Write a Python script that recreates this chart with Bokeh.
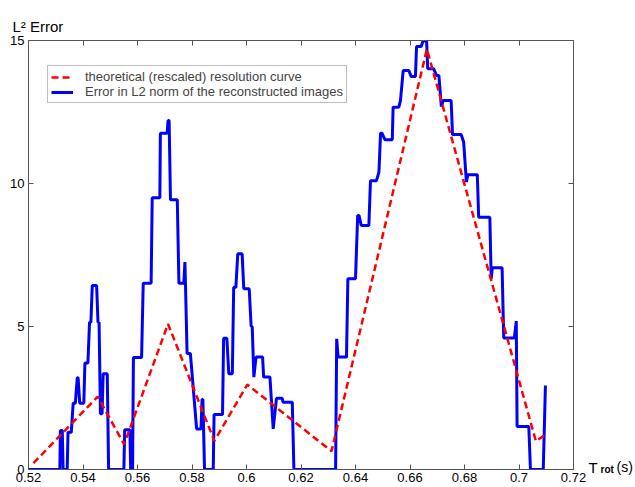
from bokeh.plotting import figure
from bokeh.models import (Range1d, LinearAxis, FixedTicker, Legend, LegendItem,
                          NumeralTickFormatter)
from bokeh.embed import file_html
from bokeh.resources import INLINE

# ---------------- data ----------------
x_ticks = [0.52, 0.54, 0.56, 0.58, 0.60, 0.62, 0.64, 0.66, 0.68, 0.70, 0.72]
x_tick_labels = ["0.52", "0.54", "0.56", "0.58", "0.6", "0.62", "0.64", "0.66", "0.68", "0.7", "0.72"]
y_ticks = [0, 5, 10, 15]

# theoretical (rescaled) resolution curve
red_x = [0.5218, 0.5454, 0.5551, 0.5712, 0.5882, 0.6003, 0.6312, 0.6662, 0.7062, 0.7098]
red_y = [0.22, 2.55, 0.88, 5.09, 1.00, 2.97, 0.64, 14.70, 0.99, 1.22]

# error in L2 norm of the reconstructed images
blue_x = [0.5200, 0.5315, 0.5317, 0.5324, 0.5327, 0.5342, 0.5345, 0.5357, 0.5364, 0.5372,
          0.5379, 0.5382, 0.5388, 0.5403, 0.5407, 0.5418, 0.5424, 0.5429, 0.5434, 0.5450,
          0.5455, 0.5459, 0.5464, 0.5470, 0.5474, 0.5489, 0.5494, 0.5550, 0.5553, 0.5572,
          0.5575, 0.5582, 0.5585, 0.5615, 0.5621, 0.5650, 0.5654, 0.5682, 0.5684, 0.5709,
          0.5712, 0.5716, 0.5721, 0.5746, 0.5752, 0.5770, 0.5774, 0.5776, 0.5782, 0.5794,
          0.5817, 0.5833, 0.5837, 0.5840, 0.5846, 0.5878, 0.5881, 0.5912, 0.5916, 0.5928,
          0.5935, 0.5948, 0.5953, 0.5961, 0.5968, 0.5984, 0.5990, 0.6010, 0.6017, 0.6021,
          0.6027, 0.6035, 0.6059, 0.6063, 0.6086, 0.6098, 0.6110, 0.6131, 0.6134, 0.6168,
          0.6174, 0.6327, 0.6331, 0.6336, 0.6367, 0.6372, 0.6400, 0.6408, 0.6413, 0.6421,
          0.6449, 0.6455, 0.6477, 0.6486, 0.6492, 0.6497, 0.6508, 0.6535, 0.6538, 0.6559,
          0.6565, 0.6575, 0.6596, 0.6604, 0.6620, 0.6624, 0.6641, 0.6648, 0.6661, 0.6665,
          0.6687, 0.6697, 0.6706, 0.6715, 0.6722, 0.6751, 0.6756, 0.6788, 0.6797, 0.6807,
          0.6812, 0.6847, 0.6852, 0.6893, 0.6898, 0.6902, 0.6938, 0.6944, 0.6983, 0.6990,
          0.6993, 0.7036, 0.7042, 0.7089, 0.7097]
blue_y = [0, 0, 1.36, 1.36, 0, 0, 1.30, 1.30, 2.32, 2.32,
          3.21, 3.21, 2.32, 2.32, 3.72, 3.72, 5.15, 5.15, 6.43, 6.43,
          5.15, 5.15, 1.95, 1.95, 3.35, 3.35, 0, 0, 1.39, 1.39,
          0, 0, 3.92, 3.92, 6.51, 6.51, 9.50, 9.50, 11.76, 11.76,
          12.20, 12.20, 9.43, 9.43, 6.51, 6.51, 7.25, 6.51, 4.06, 4.06,
          1.42, 1.42, 2.45, 2.45, 0, 0, 1.92, 1.92, 4.59, 4.59,
          3.35, 3.35, 6.37, 6.37, 7.54, 7.54, 6.32, 6.32, 5.00, 5.00,
          3.23, 3.93, 3.93, 3.23, 3.23, 1.42, 2.49, 2.49, 2.35, 2.35,
          0, 0, 4.57, 3.93, 3.93, 6.67, 6.67, 8.88, 8.88, 8.53,
          8.53, 10.10, 10.10, 10.40, 11.76, 11.76, 11.53, 11.53, 12.67, 12.67,
          12.90, 13.95, 13.95, 13.74, 13.74, 14.79, 14.79, 14.98, 14.98, 14.01,
          14.01, 13.78, 13.78, 12.69, 12.90, 12.90, 11.71, 11.71, 11.44, 10.05,
          10.31, 10.31, 8.82, 8.82, 6.67, 7.05, 7.05, 4.60, 4.60, 5.19,
          1.50, 1.50, 0, 0, 2.94]

series_labels = ["theoretical (rescaled) resolution curve",
                 "Error in L2 norm of the reconstructed images"]
y_title = "L\u00b2 Error"
x_title_parts = ["T", "rot", "(s)"]   # T with bold subscript "rot", then "(s)"

# ---------------- styling ----------------
FONT = "Liberation Sans"
AX = "#555555"

p = figure(width=635, height=487, output_backend="svg", toolbar_location=None,
           x_range=Range1d(0.52, 0.72), y_range=Range1d(0, 15),
           x_axis_type=None, y_axis_type=None,
           min_border_left=28, min_border_right=62, min_border_top=40, min_border_bottom=18)
p.outline_line_color = None
p.background_fill_color = "white"
p.border_fill_color = "white"

# y-axis title, MATLAB style, at the top left
p.title.text = y_title
p.title.align = "left"
p.title.offset = -16
p.title.standoff = 11
p.title.text_font = FONT
p.title.text_font_size = "15px"
p.title.text_font_style = "normal"
p.title.text_color = "black"


def make_axis(ticks, labels_on, standoff):
    ax = LinearAxis(ticker=FixedTicker(ticks=ticks))
    ax.axis_line_color = AX
    ax.axis_line_width = 1
    ax.major_tick_line_color = AX
    ax.major_tick_in = 5
    ax.major_tick_out = 0
    ax.minor_tick_line_color = None
    ax.major_label_text_font = FONT
    ax.major_label_text_color = "black"
    ax.major_label_standoff = standoff
    if labels_on:
        ax.major_label_text_font_size = "13px"
    else:
        ax.major_label_text_font_size = "0px"
        ax.major_label_text_alpha = 0
    return ax


xb = make_axis(x_ticks, True, 3)
xb.formatter = NumeralTickFormatter(format="0.[00]")
xb.major_label_overrides = {t: l for t, l in zip(x_ticks, x_tick_labels)}
p.add_layout(xb, "below")
xt = make_axis(x_ticks, False, 0)
p.add_layout(xt, "above")
yl = make_axis(y_ticks, True, 4)
p.add_layout(yl, "left")
yr = make_axis(y_ticks, False, 0)
p.add_layout(yr, "right")

# x-axis title "T_rot(s)" drawn at the lower right, level with the x axis,
# as the single tick label (at y = 0) of three bare axes on the right
p.extra_y_ranges = {"xtitle": Range1d(-0.08, 14.92)}
for txt, size, style, standoff, rng in [(x_title_parts[0], "15px", "normal", 15, "xtitle"),
                                        (x_title_parts[1], "10px", "bold", 0, "default"),
                                        (x_title_parts[2], "14px", "normal", 0, "xtitle")]:
    ax = LinearAxis(ticker=FixedTicker(ticks=[y_ticks[0]]), y_range_name=rng)
    ax.axis_line_color = None
    ax.major_tick_line_color = None
    ax.minor_tick_line_color = None
    ax.major_tick_in = 0
    ax.major_tick_out = 0
    ax.major_label_standoff = standoff
    ax.major_label_overrides = {y_ticks[0]: txt}
    ax.major_label_text_font = FONT
    ax.major_label_text_font_size = size
    ax.major_label_text_font_style = style
    ax.major_label_text_color = "black"
    p.add_layout(ax, "right")

r_blue = p.line(blue_x, blue_y, line_color="#0000ff", line_width=3)
r_red = p.line(red_x, red_y, line_color="#ff0000", line_width=2.5, line_dash="7 4")

legend = Legend(items=[LegendItem(label=series_labels[0], renderers=[r_red]),
                       LegendItem(label=series_labels[1], renderers=[r_blue])],
                location=(19, 366))
legend.label_text_font = FONT
legend.label_text_font_size = "13px"
legend.glyph_width = 22
legend.glyph_height = 14
legend.label_height = 14
legend.label_standoff = 12
legend.padding = 3
legend.spacing = 0
legend.margin = 0
legend.border_line_color = "#808080"
legend.border_line_width = 1
legend.background_fill_color = "white"
legend.background_fill_alpha = 1
p.add_layout(legend)

open("out.html", "w").write(file_html(p, INLINE))
